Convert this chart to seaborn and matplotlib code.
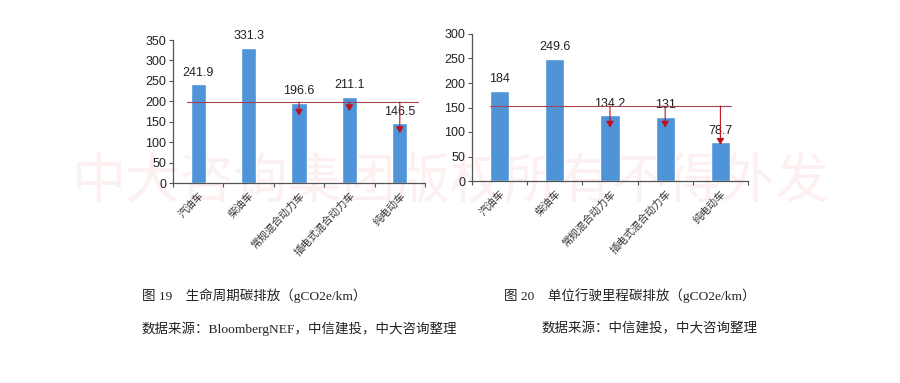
import matplotlib
matplotlib.use('Agg')
import matplotlib.pyplot as plt
import seaborn as sns
import pandas as pd

# ── Data ──────────────────────────────────────────────────────
categories = ['汽油车', '柴油车', '常规混合动力车', '插电式混合动力车', '纯电动车']

life_values = [241.9, 331.3, 196.6, 211.1, 146.5]
life_ref = 198
life_arrow_idx = [2, 3, 4]
life_arrow_end = [165, 176, 122]

km_values = [184, 249.6, 134.2, 131, 78.7]
km_ref = 153
km_arrow_idx = [2, 3, 4]
km_arrow_end = [109, 109, 74]

life_yticks = [0, 50, 100, 150, 200, 250, 300, 350]
km_yticks = [0, 50, 100, 150, 200, 250, 300]

BAR = '#4f94d9'
LINE = '#a8434f'
ARROW = '#c0101e'
SPINE = '#555555'

sns.set_theme(style='white')
plt.rcParams['font.family'] = ['Noto Sans CJK SC', 'DejaVu Sans']

fig = plt.figure(figsize=(9, 3.83), dpi=100)

# watermark behind everything
fig.text(0.501, 1 - 183 / 383, '中大咨询集团版权所有不得外发', fontsize=39,
         color='#fdf0f0', ha='center', va='center', zorder=-1)


def draw(ax, values, ref, ref_span, arrow_idx, arrow_end, yticks, width):
    df = pd.DataFrame({'cat': categories, 'val': values})
    sns.barplot(data=df, x='cat', y='val', color=BAR, width=width,
                saturation=1, ax=ax, zorder=2)
    ax.patch.set_alpha(0)
    ax.set_xlim(-0.5, len(categories) - 0.5)
    ax.set_ylim(0, yticks[-1])
    ax.set_yticks(yticks)
    ax.set_yticklabels([str(t) for t in yticks], family='Liberation Sans')
    ax.set_xlabel('')
    ax.set_ylabel('')
    for s in ['top', 'right']:
        ax.spines[s].set_visible(False)
    for s in ['left', 'bottom']:
        ax.spines[s].set_color(SPINE)
        ax.spines[s].set_linewidth(0.9)
    ax.tick_params(axis='y', which='major', direction='out', length=3,
                   width=0.8, color=SPINE, labelsize=9, pad=2,
                   left=True, labelcolor='#222222')
    # category ticks between bars, labels under bars
    ax.set_xticks([i - 0.5 for i in range(len(categories) + 1)], minor=True)
    ax.tick_params(axis='x', which='minor', direction='out', length=3,
                   width=0.8, color=SPINE, bottom=True)
    ax.tick_params(axis='x', which='major', length=0, pad=5)
    ax.set_xticks(range(len(categories)))
    ax.set_xticklabels(categories, rotation=47, ha='right',
                       rotation_mode='anchor', fontsize=7.5, color='#333333')
    for p, v in zip(ax.patches, values):
        ax.annotate(f'{v:g}', (p.get_x() + p.get_width() / 2, v),
                    xytext=(0, 4), textcoords='offset points',
                    ha='center', va='bottom', fontsize=9,
                    color='#222222', family='Liberation Sans')
    ax.plot(ref_span, [ref, ref], color=LINE, lw=0.8, zorder=3)
    for i, e in zip(arrow_idx, arrow_end):
        ax.annotate('', xy=(i, e), xytext=(i, ref),
                    arrowprops=dict(arrowstyle='-|>,head_length=0.5,head_width=0.3',
                                    color=LINE, lw=0.8,
                                    mutation_scale=7.5, shrinkA=0, shrinkB=0,
                                    fc=ARROW, ec=ARROW),
                    zorder=4)


ax1 = fig.add_axes([173 / 900, 1 - 183 / 383, (425 - 173) / 900, (183 - 40) / 383])
draw(ax1, life_values, life_ref, [-0.22, 4.36], life_arrow_idx, life_arrow_end,
     life_yticks, 0.30)

ax2 = fig.add_axes([472 / 900, 1 - 181 / 383, (748 - 472) / 900, (181 - 34) / 383])
draw(ax2, km_values, km_ref, [-0.17, 4.2], km_arrow_idx, km_arrow_end,
     km_yticks, 0.35)

# captions
cap = dict(fontsize=9.7, color='#222222', va='center', ha='left',
           family=['Liberation Serif', 'Noto Sans CJK SC'])
fig.text(142 / 900, 1 - 296 / 383, '图 19    生命周期碳排放（gCO2e/km）', **cap)
fig.text(142 / 900, 1 - 329 / 383, '数据来源：BloombergNEF，中信建投，中大咨询整理', **cap)
fig.text(504 / 900, 1 - 296 / 383, '图 20    单位行驶里程碳排放（gCO2e/km）', **cap)
fig.text(541 / 900, 1 - 329 / 383, '数据来源：中信建投，中大咨询整理', **cap)

fig.savefig('out.png', dpi=100, facecolor='white')
